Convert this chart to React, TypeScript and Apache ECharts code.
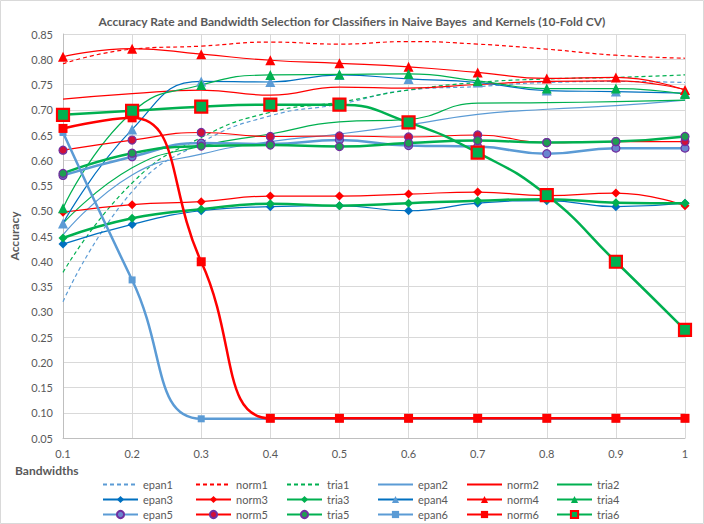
import React, { useEffect, useRef } from "react";
import * as echarts from "echarts";

const bandwidths = ["0.1", "0.2", "0.3", "0.4", "0.5", "0.6", "0.7", "0.8", "0.9", "1"];
const yTicks = { min: 0.05, max: 0.85, step: 0.05 };

const epan1 = [0.32, 0.538, 0.635, 0.688, 0.711, 0.739, 0.746, 0.754, 0.756, 0.754];
const norm1 = [0.791, 0.82, 0.826, 0.834, 0.83, 0.835, 0.83, 0.82, 0.808, 0.802];
const tria1 = [0.378, 0.555, 0.645, 0.695, 0.715, 0.739, 0.754, 0.761, 0.764, 0.769];
const epan2 = [0.452, 0.571, 0.612, 0.637, 0.652, 0.67, 0.691, 0.701, 0.708, 0.719];
const norm2 = [0.721, 0.732, 0.739, 0.729, 0.745, 0.743, 0.75, 0.756, 0.757, 0.74];
const tria2 = [0.475, 0.585, 0.628, 0.652, 0.676, 0.681, 0.713, 0.714, 0.716, 0.719];
const epan3 = [0.434, 0.473, 0.5, 0.508, 0.51, 0.5, 0.515, 0.52, 0.508, 0.515];
const norm3 = [0.497, 0.512, 0.518, 0.529, 0.529, 0.533, 0.537, 0.53, 0.535, 0.51];
const tria3 = [0.446, 0.485, 0.503, 0.514, 0.51, 0.515, 0.52, 0.523, 0.516, 0.515];
const epan4 = [0.475, 0.661, 0.756, 0.755, 0.769, 0.761, 0.754, 0.738, 0.736, 0.733];
const norm4 = [0.805, 0.821, 0.81, 0.798, 0.792, 0.785, 0.774, 0.762, 0.764, 0.739];
const tria4 = [0.505, 0.695, 0.749, 0.769, 0.77, 0.771, 0.757, 0.742, 0.742, 0.731];
const epan5 = [0.57, 0.607, 0.634, 0.632, 0.64, 0.629, 0.627, 0.613, 0.624, 0.624];
const norm5 = [0.62, 0.64, 0.655, 0.647, 0.648, 0.646, 0.65, 0.635, 0.637, 0.637];
const tria5 = [0.574, 0.614, 0.628, 0.63, 0.627, 0.634, 0.639, 0.635, 0.637, 0.647];
const epan6 = [0.655, 0.363, 0.088, 0.088, 0.088, 0.088, 0.088, 0.088, 0.088, 0.088];
const norm6 = [0.663, 0.684, 0.399, 0.089, 0.089, 0.089, 0.089, 0.089, 0.089, 0.089];
const tria6 = [0.69, 0.698, 0.706, 0.71, 0.71, 0.675, 0.615, 0.531, 0.399, 0.264];

const LB = "#5B9BD5";
const DB = "#0070C0";
const RD = "#FF0000";
const GR = "#00B050";
const PU = "#7030A0";

type Spec = {
  name: string;
  data: number[];
  color: string;
  width: number;
  dashed?: boolean;
  symbol?: string;
  size?: number;
  fill?: string;
  border?: string;
  bw?: number;
};

const specs: Spec[] = [
  { name: "epan1", data: epan1, color: LB, width: 1.2, dashed: true },
  { name: "norm1", data: norm1, color: RD, width: 1.2, dashed: true },
  { name: "tria1", data: tria1, color: GR, width: 1.2, dashed: true },
  { name: "epan2", data: epan2, color: LB, width: 1.2 },
  { name: "norm2", data: norm2, color: RD, width: 1.2 },
  { name: "tria2", data: tria2, color: GR, width: 1.2 },
  { name: "epan3", data: epan3, color: DB, width: 1.2, symbol: "diamond", size: 9, fill: DB },
  { name: "norm3", data: norm3, color: RD, width: 1.2, symbol: "diamond", size: 9, fill: RD },
  { name: "tria3", data: tria3, color: GR, width: 2.5, symbol: "diamond", size: 9, fill: GR },
  { name: "epan4", data: epan4, color: DB, width: 1.2, symbol: "triangle", size: 10, fill: LB },
  { name: "norm4", data: norm4, color: RD, width: 1.2, symbol: "triangle", size: 10, fill: RD },
  { name: "tria4", data: tria4, color: GR, width: 1.2, symbol: "triangle", size: 10, fill: GR },
  { name: "epan5", data: epan5, color: LB, width: 2.5, symbol: "circle", size: 8, fill: "#6A85CF", border: PU, bw: 1.2 },
  { name: "norm5", data: norm5, color: RD, width: 1.2, symbol: "circle", size: 8, fill: "#D0103A", border: PU, bw: 1.2 },
  { name: "tria5", data: tria5, color: GR, width: 2.5, symbol: "circle", size: 8, fill: "#1E9E50", border: PU, bw: 1.2 },
  { name: "epan6", data: epan6, color: LB, width: 2.5, symbol: "rect", size: 7, fill: LB },
  { name: "norm6", data: norm6, color: RD, width: 2.5, symbol: "rect", size: 9, fill: RD },
  { name: "tria6", data: tria6, color: GR, width: 2.5, symbol: "rect", size: 12, fill: GR, border: RD, bw: 2.2 },
];

const legendCols = [
  { left: 102, names: ["epan1", "epan3", "epan5"] },
  { left: 195, names: ["norm1", "norm3", "norm5"] },
  { left: 286, names: ["tria1", "tria3", "tria5"] },
  { left: 377, names: ["epan2", "epan4", "epan6"] },
  { left: 466, names: ["norm2", "norm4", "norm6"] },
  { left: 556, names: ["tria2", "tria4", "tria6"] },
];

const FONT = "Lato, 'Liberation Sans', sans-serif";
const TXT = "#595959";

export default function App() {
  const ref = useRef<HTMLDivElement>(null);
  useEffect(() => {
    document.body.style.margin = "0";
    if (!ref.current) return;
    const chart = echarts.init(ref.current, undefined, { renderer: "svg" });
    const hasSymbol = (n: string) => !!specs.find((s) => s.name === n)?.symbol;
    const series = specs.map((s) => ({
      name: s.name,
      type: "line",
      data: s.data,
      smooth: true,
      symbol: s.symbol || "none",
      symbolSize: s.size || 0,
      showSymbol: !!s.symbol,
      lineStyle: { color: s.color, width: s.width, type: s.dashed ? [4, 3] : "solid" },
      itemStyle: {
        color: s.fill || s.color,
        borderColor: s.border || s.fill || s.color,
        borderWidth: s.border ? s.bw : 0,
      },
      emphasis: { disabled: true },
    }));
    chart.setOption({
      animation: false,
      textStyle: { fontFamily: FONT },
      title: {
        text: "Accuracy Rate and Bandwidth Selection for Classifiers in Naive Bayes  and Kernels (10-Fold CV)",
        left: "center",
        top: 10,
        textStyle: { fontSize: 12, fontWeight: "bold", color: TXT, fontFamily: FONT },
      },
      grid: { left: 63, right: 19, top: 34, bottom: 86 },
      xAxis: {
        type: "category",
        data: bandwidths,
        boundaryGap: false,
        axisLine: { lineStyle: { color: "#BFBFBF" } },
        axisTick: { show: false },
        axisLabel: { color: TXT, fontSize: 11, margin: 10, fontFamily: FONT },
        splitLine: { show: true, lineStyle: { color: "#D9D9D9" } },
      },
      yAxis: {
        type: "value",
        min: yTicks.min,
        max: yTicks.max,
        interval: yTicks.step,
        name: "Accuracy",
        nameLocation: "middle",
        nameRotate: 90,
        nameGap: 41,
        nameTextStyle: { color: TXT, fontSize: 12, fontWeight: "bold", fontFamily: FONT },
        axisLine: { show: true, lineStyle: { color: "#BFBFBF" } },
        axisTick: { show: false },
        axisLabel: { color: TXT, fontSize: 11, margin: 10, formatter: (v: number) => v.toFixed(2), fontFamily: FONT },
        splitLine: { lineStyle: { color: "#D9D9D9" } },
      },
      legend: legendCols.map((c) => ({
        orient: "vertical",
        left: c.left,
        top: 479,
        padding: 0,
        itemWidth: 35,
        itemHeight: 9,
        itemGap: 4,
        data: c.names.map((n) => (hasSymbol(n) ? { name: n } : { name: n, itemStyle: { opacity: 0 } })),
        selectedMode: false,
        textStyle: { color: TXT, fontSize: 11, fontFamily: FONT },
      })),
      graphic: [
        {
          type: "rect",
          shape: { x: 0.5, y: 0.5, width: 703, height: 523 },
          style: { fill: "none", stroke: "#D9D9D9", lineWidth: 1 },
          silent: true,
        },
        {
          type: "text",
          left: 15,
          top: 464,
          style: { text: "Bandwidths", fill: TXT, font: `bold 12px ${FONT}` },
        },
      ],
      series,
    });
    return () => chart.dispose();
  }, []);
  return <div ref={ref} style={{ width: 704, height: 524 }} />;
}
